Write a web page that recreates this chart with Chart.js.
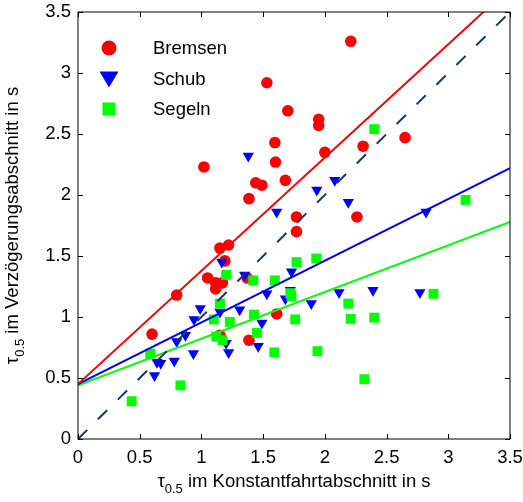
<!DOCTYPE html>
<html lang="de">

<head>
    <meta charset="UTF-8">
    <title>tau 0.5 Vergleich</title>
    <script src="https://cdn.jsdelivr.net/npm/chart.js"></script>
    <style>
        body {
            margin: 0;
            background: #ffffff;
        }
    </style>
</head>

<body>
    <canvas id="myChartCanvas" width="523" height="502"></canvas>
</body>

</html>

<script>
    // values (seconds)
    var bremsenX = [0.60, 0.80, 1.02, 1.05, 1.115, 1.17, 1.115, 1.15, 1.22, 1.19, 1.37, 1.385, 1.385, 1.44, 1.49,
        1.53, 1.595, 1.60, 1.61, 1.68, 1.70, 1.77, 1.77, 1.95, 1.95, 2.00, 2.21, 2.26, 2.31, 2.65, 1.15];
    var bremsenY = [0.86, 1.18, 2.23, 1.32, 1.28, 1.28, 1.23, 1.565, 1.59, 1.46, 1.32, 1.97, 0.81, 2.10, 2.08,
        2.92, 2.43, 2.27, 1.025, 2.12, 2.69, 1.82, 1.70, 2.62, 2.57, 2.35, 3.26, 1.82, 2.40, 2.47, 0.85];

    var schubX = [0.62, 0.64, 0.67, 0.78, 0.80, 0.87, 0.935, 0.94, 0.99, 1.15, 1.165, 1.20, 1.22, 1.31, 1.35,
        1.38, 1.46, 1.49, 1.53, 1.61, 1.68, 1.72, 1.73, 1.89, 1.935, 2.08, 2.115, 2.19, 2.39, 2.77, 2.82];
    var schubY = [0.52, 0.63, 0.62, 0.64, 0.80, 0.85, 0.70, 0.98, 1.07, 1.04, 1.45, 0.785, 0.71, 1.06, 1.345,
        2.32, 0.76, 0.95, 1.19, 1.86, 1.15, 1.22, 1.37, 1.11, 2.04, 2.12, 1.20, 1.94, 1.22, 1.20, 1.86];

    var segelnX = [0.435, 0.585, 0.83, 1.10, 1.12, 1.15, 1.17, 1.20, 1.23, 1.42, 1.425, 1.45, 1.59, 1.595,
        1.72, 1.73, 1.76, 1.77, 1.93, 1.94, 2.19, 2.21, 2.32, 2.40, 2.40, 2.88, 3.14];
    var segelnY = [0.31, 0.70, 0.44, 0.98, 0.84, 1.11, 0.81, 1.345, 0.96, 1.30, 1.02, 0.87, 0.71, 1.30,
        1.195, 1.17, 0.98, 1.45, 1.48, 0.72, 1.11, 0.985, 0.49, 2.54, 0.995, 1.19, 1.96];

    // regression lines and the diagonal, start and end value at fitX
    var fitX = [0, 3.5];
    var bremsenFit = [0.45, 3.70];
    var schubFit = [0.45, 2.22];
    var segelnFit = [0.44, 1.78];
    var diagonal = [0, 3.5];

    var tickValues = [0, 0.5, 1, 1.5, 2, 2.5, 3, 3.5];
    var legendLabels = ['Bremsen', 'Schub', 'Segeln'];

    var fonte = '"Liberation Sans", Arial, sans-serif';

    function pares(xs, ys) {
        var out = [];
        for (var i = 0; i < xs.length; i++) {
            out.push({ x: xs[i], y: ys[i] });
        }
        return out;
    }

    function linha(ys, cor, dash, ordem) {
        return {
            type: 'line',
            data: pares(fitX, ys),
            borderColor: cor,
            borderWidth: 2,
            borderDash: dash,
            pointRadius: 0,
            fill: false,
            order: ordem
        };
    }

    // text with subscript, e.g. tau_0.5
    function textoIndice(ctx, partes) {
        var grande = '18.5px ' + fonte;
        var pequeno = '13px ' + fonte;
        ctx.font = grande;
        var w1 = ctx.measureText(partes[0]).width;
        ctx.font = pequeno;
        var w2 = ctx.measureText(partes[1]).width;
        ctx.font = grande;
        var w3 = ctx.measureText(partes[2]).width;
        var x = -(w1 + w2 + w3) / 2;
        ctx.textAlign = 'left';
        ctx.textBaseline = 'alphabetic';
        ctx.font = grande;
        ctx.fillText(partes[0], x, 0);
        ctx.font = pequeno;
        ctx.fillText(partes[1], x + w1, 6);
        ctx.font = grande;
        ctx.fillText(partes[2], x + w1 + w2, 0);
    }

    var moldura = {
        id: 'moldura',
        afterDraw: function (chart) {
            var ctx = chart.ctx;
            var a = chart.chartArea;
            var sx = chart.scales.x;
            var sy = chart.scales.y;
            ctx.save();

            // box and inward ticks
            ctx.strokeStyle = '#000000';
            ctx.lineWidth = 1;
            ctx.strokeRect(a.left, a.top, a.right - a.left, a.bottom - a.top);
            ctx.beginPath();
            for (var i = 0; i < tickValues.length; i++) {
                var px = Math.round(sx.getPixelForValue(tickValues[i])) + 0.5;
                var py = Math.round(sy.getPixelForValue(tickValues[i])) + 0.5;
                ctx.moveTo(px, a.bottom); ctx.lineTo(px, a.bottom - 5);
                ctx.moveTo(px, a.top); ctx.lineTo(px, a.top + 5);
                ctx.moveTo(a.left, py); ctx.lineTo(a.left + 5, py);
                ctx.moveTo(a.right, py); ctx.lineTo(a.right - 5, py);
            }
            ctx.stroke();

            // legend
            var lx = 109;
            var ly = [48, 79, 109];
            ctx.fillStyle = '#FF0000';
            ctx.beginPath();
            ctx.arc(lx, ly[0], 7.5, 0, Math.PI * 2);
            ctx.fill();
            ctx.fillStyle = '#0000FF';
            ctx.beginPath();
            ctx.moveTo(lx - 9.5, ly[1] - 7.5);
            ctx.lineTo(lx + 9.5, ly[1] - 7.5);
            ctx.lineTo(lx, ly[1] + 8.5);
            ctx.closePath();
            ctx.fill();
            ctx.fillStyle = '#00FF00';
            ctx.fillRect(lx - 6.5, ly[2] - 6.5, 13, 13);

            ctx.fillStyle = '#000000';
            ctx.font = '18.5px ' + fonte;
            ctx.textAlign = 'left';
            ctx.textBaseline = 'middle';
            for (var j = 0; j < legendLabels.length; j++) {
                ctx.fillText(legendLabels[j], 153, ly[j] + 1);
            }

            // axis titles
            ctx.save();
            ctx.translate((a.left + a.right) / 2, 487);
            textoIndice(ctx, ['\u03C4', '0.5', ' im Konstantfahrtabschnitt in s']);
            ctx.restore();

            ctx.save();
            ctx.translate(18, (a.top + a.bottom) / 2);
            ctx.rotate(-Math.PI / 2);
            textoIndice(ctx, ['\u03C4', '0.5', ' im Verz\u00F6gerungsabschnitt in s']);
            ctx.restore();

            ctx.restore();
        }
    };

    let dados = {
        datasets: [
            linha(diagonal, '#17376B', [13, 15], 1),
            linha(bremsenFit, '#FF0000', [], 2),
            linha(schubFit, '#0000FF', [], 3),
            linha(segelnFit, '#00FF00', [], 4),
            {
                label: 'Segeln',
                data: pares(segelnX, segelnY),
                pointStyle: 'rect',
                pointRadius: 7,
                backgroundColor: '#00FF00',
                borderWidth: 0,
                order: 5
            },
            {
                label: 'Schub',
                data: pares(schubX, schubY),
                pointStyle: 'triangle',
                rotation: 180,
                pointRadius: 6.5,
                backgroundColor: '#0000FF',
                borderWidth: 0,
                order: 6
            },
            {
                label: 'Bremsen',
                data: pares(bremsenX, bremsenY),
                pointStyle: 'circle',
                pointRadius: 5.8,
                backgroundColor: '#FF0000',
                borderWidth: 0,
                order: 7
            }
        ]
    };

    let options = {
        responsive: false,
        animation: false,
        layout: {
            padding: { top: 12, right: 13, left: 0, bottom: 0 }
        },
        scales: {
            x: {
                type: 'linear',
                min: 0,
                max: 3.5,
                afterFit: function (scale) {
                    scale.height = 63;
                    scale.paddingLeft = 0;
                    scale.paddingRight = 0;
                },
                ticks: {
                    stepSize: 0.5,
                    color: '#000000',
                    padding: 8,
                    maxRotation: 0,
                    font: { family: fonte, size: 18.5 },
                    callback: function (v) { return String(v); }
                },
                grid: { display: false, drawTicks: false },
                border: { display: false }
            },
            y: {
                type: 'linear',
                min: 0,
                max: 3.5,
                afterFit: function (scale) {
                    scale.width = 78;
                    scale.paddingTop = 0;
                    scale.paddingBottom = 0;
                },
                ticks: {
                    stepSize: 0.5,
                    color: '#000000',
                    padding: 7,
                    font: { family: fonte, size: 18.5 },
                    callback: function (v) { return String(v); }
                },
                grid: { display: false, drawTicks: false },
                border: { display: false }
            }
        },
        plugins: {
            legend: { display: false },
            tooltip: { enabled: false }
        }
    };

    const config = {
        type: 'scatter',
        data: dados,
        options: options,
        plugins: [moldura]
    };

    let myChart = new Chart(
        document.getElementById('myChartCanvas'),
        config
    );
</script>
